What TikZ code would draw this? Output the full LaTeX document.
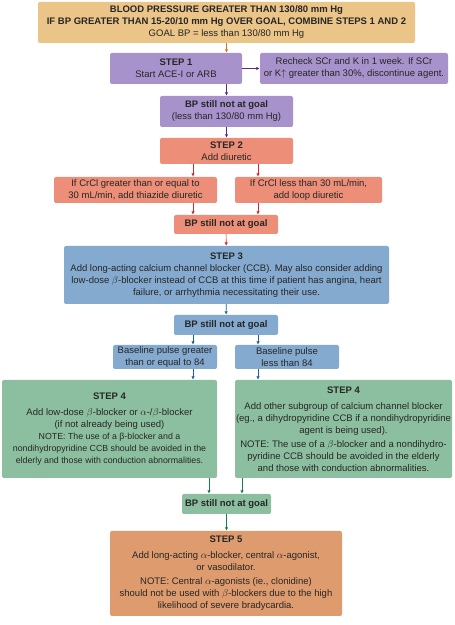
\documentclass[tikz,border=0pt]{standalone}
\usepackage{fontspec}
\setmainfont{Liberation Sans}
\usetikzlibrary{arrows.meta}
\definecolor{tanfill}{HTML}{EBC488}
\definecolor{purplefill}{HTML}{A792CC}
\definecolor{salmonfill}{HTML}{EC8E78}
\definecolor{bluefill}{HTML}{84AACF}
\definecolor{greenfill}{HTML}{8CBF9F}
\definecolor{orangefill}{HTML}{DE9B6E}
\definecolor{orangeline}{HTML}{D9731E}
\definecolor{purpleline}{HTML}{5A2A8A}
\definecolor{redline}{HTML}{D62828}
\definecolor{blueline}{HTML}{1F5F99}
\definecolor{greenline}{HTML}{16804A}
\tikzset{
  box/.style={rectangle,rounded corners=2bp,align=center,inner sep=0pt,
    font=\fontsize{9.5bp}{12bp}\selectfont,text=black!85},
  arr/.style={->,line width=0.7bp},
}
\newcommand{\smallnote}{\fontsize{8.8bp}{12bp}\selectfont}
\begin{document}
\begin{tikzpicture}[>={Latex[length=3.5bp,width=3.5bp]},line join=bevel,]
    \useasboundingbox (0bp,0bp) rectangle (455bp,625bp);
    %%
    \node (goal) at (226.5bp,602.5bp) [box,fill=tanfill,minimum width=377bp,minimum height=41bp] {\textbf{BLOOD PRESSURE GREATER THAN 130/80 mm Hg}\\\textbf{IF BP GREATER THAN 15-20/10 mm Hg OVER GOAL, COMBINE STEPS 1 AND 2}\\GOAL BP = less than 130/80 mm Hg};
    \node (step1) at (176bp,556.5bp) [box,fill=purplefill,minimum width=132bp,minimum height=31bp] {\textbf{STEP 1}\\Start ACE-I or ARB};
    \node (recheck) at (354bp,556.5bp) [box,fill=purplefill,minimum width=188bp,minimum height=31bp] {Recheck SCr and K in 1 week. If SCr\\or K$\uparrow$ greater than 30\%, discontinue agent.};
    \node (bp1) at (226.5bp,513.5bp) [box,fill=purplefill,minimum width=133bp,minimum height=31bp] {\textbf{BP still not at goal}\\(less than 130/80 mm Hg)};
    \node (step2) at (226.5bp,474bp) [box,fill=salmonfill,minimum width=133bp,minimum height=26bp] {\textbf{STEP 2}\\Add diuretic};
    \node (thiazide) at (135.5bp,435bp) [box,fill=salmonfill,minimum width=163bp,minimum height=26bp] {If CrCl greater than or equal to\\30 mL/min, add thiazide diuretic};
    \node (loop) at (308.5bp,435bp) [box,fill=salmonfill,minimum width=147bp,minimum height=26bp] {If CrCl less than 30 mL/min,\\add loop diuretic};
    \node (bp2) at (226bp,400.5bp) [box,fill=salmonfill,minimum width=104bp,minimum height=19bp] {\textbf{BP still not at goal}};
    \node (step3) at (226.5bp,350bp) [box,fill=bluefill,minimum width=325bp,minimum height=58bp] {\textbf{STEP 3}\\Add long-acting calcium channel blocker (CCB). May also consider adding\\low-dose $\beta$-blocker instead of CCB at this time if patient has angina, heart\\failure, or arrhythmia necessitating their use.};
    \node (bp3) at (226bp,300bp) [box,fill=bluefill,minimum width=104bp,minimum height=20bp] {\textbf{BP still not at goal}};
    \node (pulsehi) at (165bp,268bp) [box,fill=bluefill,minimum width=104bp,minimum height=24bp] {Baseline pulse greater\\than or equal to 84};
    \node (pulselo) at (287bp,268bp) [box,fill=bluefill,minimum width=104bp,minimum height=24bp] {Baseline pulse\\less than 84};
    \node (step4a) at (109.5bp,196bp) [box,fill=greenfill,minimum width=215bp,minimum height=98bp] {\textbf{STEP 4}\\[4bp]Add low-dose $\beta$-blocker or $\alpha$-/$\beta$-blocker\\(if not already being used)\\\smallnote NOTE: The use of a β-blocker and a\\\smallnote nondihydropyridine CCB should be avoided in the\\\smallnote elderly and those with conduction abnormalities.};
    \node (step4b) at (343.5bp,196bp) [box,fill=greenfill,minimum width=217bp,minimum height=98bp] {\textbf{STEP 4}\\[4bp]Add other subgroup of calcium channel blocker\\(eg., a dihydropyridine CCB if a nondihydropyridine\\agent is being used).\\[2bp]NOTE: The use of a $\beta$-blocker and a nondihydro-\\pyridine CCB should be avoided in the elderly\\and those with conduction abnormalities.};
    \node (bp4) at (226.5bp,121bp) [box,fill=greenfill,minimum width=89bp,minimum height=20bp] {\textbf{BP still not at goal}};
    \node (step5) at (226bp,51.5bp) [box,fill=orangefill,minimum width=232bp,minimum height=85bp] {\textbf{STEP 5}\\[4bp]Add long-acting $\alpha$-blocker, central $\alpha$-agonist,\\or vasodilator.\\[2bp]NOTE: Central $\alpha$-agonists (ie., clonidine)\\should not be used with $\beta$-blockers due to the high\\likelihood of severe bradycardia.};
    %%
    \draw [arr,orangeline] (goal) -- (step1.north -| goal);
    \draw [arr,purpleline] (step1) -- (recheck);
    \draw [arr,purpleline] (step1.south -| bp1) -- (bp1);
    \draw [arr,purpleline] (bp1) -- (step2);
    \draw [arr,redline] ([xshift=-33.5bp]step2.south) -- ([xshift=-33.5bp]step2.south |- thiazide.north);
    \draw [arr,redline] ([xshift=31.5bp]step2.south) -- ([xshift=31.5bp]step2.south |- loop.north);
    \draw [arr,redline] ([xshift=-33bp]bp2.north |- thiazide.south) -- ([xshift=-33bp]bp2.north);
    \draw [arr,redline] ([xshift=32bp]bp2.north |- loop.south) -- ([xshift=32bp]bp2.north);
    \draw [arr,redline] (bp2) -- (step3);
    \draw [arr,blueline] (step3) -- (bp3);
    \draw [arr,blueline] ([xshift=-33bp]bp3.south) -- ([xshift=-33bp]bp3.south |- pulsehi.north);
    \draw [arr,blueline] ([xshift=32bp]bp3.south) -- ([xshift=32bp]bp3.south |- pulselo.north);
    \draw [arr,blueline] ([xshift=28bp]pulsehi.south) -- ([xshift=28bp]pulsehi.south |- step4a.north);
    \draw [arr,blueline] ([xshift=-29bp]pulselo.south) -- ([xshift=-29bp]pulselo.south |- step4b.north);
    \draw [arr,greenline] ([xshift=-17.5bp]bp4.north |- step4a.south) -- ([xshift=-17.5bp]bp4.north);
    \draw [arr,greenline] ([xshift=15.5bp]bp4.north |- step4b.south) -- ([xshift=15.5bp]bp4.north);
    \draw [arr,greenline] (bp4) -- (step5.north -| bp4);
    %
\end{tikzpicture}
\end{document}
